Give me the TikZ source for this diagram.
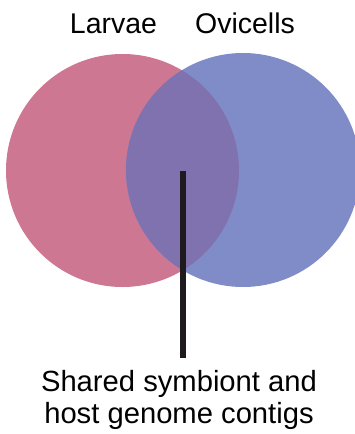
\documentclass[tikz,border=0pt]{standalone}
\usepackage{fontspec}
\setmainfont{Liberation Sans}
\usetikzlibrary{positioning}
\definecolor{larvaepink}{RGB}{205,119,147}
\definecolor{ovicellblue}{RGB}{127,140,200}
\definecolor{sharedpurple}{RGB}{128,114,175}
\definecolor{ink}{RGB}{30,26,30}
\tikzset{
  set/.style={circle,fill=#1,minimum size=233pt,inner sep=0pt},
  setlabel/.style={font=\fontsize{28.5}{31}\selectfont,inner sep=0pt,anchor=base},
  pointer/.style={draw=ink,line width=5.5pt},
}

\begin{document}
\begin{tikzpicture}[x=1pt,y=-1pt]
    \useasboundingbox (0,0) rectangle (354,434);
    \node[set=larvaepink] (larvae) at (122.5,170.5) {};
    \node[set=ovicellblue,minimum size=234pt] (ovicells) at (243,170) {};
    % overlap of the two sets
    \begin{scope}
      \clip (122.5,170.5) circle (116.5);
      \fill[sharedpurple] (243,170) circle (117);
    \end{scope}
    \node[setlabel] (larvaelabel) at (113.5,33) {Larvae};
    \node[setlabel] (ovicellslabel) at (245,33) {Ovicells};
    \coordinate (shared) at (183,171);
    \node[setlabel,font=\fontsize{29.2}{31.5}\selectfont,align=center] (sharedlabel) at (179,423) {Shared symbiont and\\host genome contigs};
    \draw[pointer,shorten >=12pt] (shared) -- (shared |- sharedlabel.north);
  \end{tikzpicture}
\end{document}
